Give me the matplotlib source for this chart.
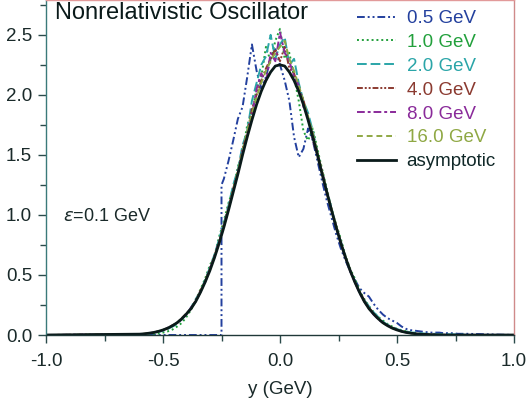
import matplotlib
matplotlib.use("Agg")
import matplotlib.pyplot as plt
from matplotlib.ticker import MultipleLocator
import numpy as np

plt.rcParams['font.family'] = ['Liberation Sans', 'DejaVu Sans']

# common sampling grid in y (GeV), -0.60 .. 0.80
grid = np.round(np.arange(-0.60, 0.8001, 0.02), 2)

asym = [0.007, 0.010, 0.015, 0.021, 0.030, 0.042, 0.057, 0.077, 0.102, 0.135,
        0.175, 0.22, 0.28, 0.355, 0.44, 0.535, 0.644, 0.765, 0.897, 1.04,
        1.19, 1.34, 1.50, 1.65, 1.79, 1.92, 2.03, 2.12, 2.19, 2.24,
        2.25, 2.24, 2.19, 2.12, 2.03, 1.92, 1.79, 1.65, 1.50, 1.34,
        1.19, 1.04, 0.897, 0.765, 0.644, 0.535, 0.44, 0.355, 0.28, 0.22,
        0.175, 0.135, 0.102, 0.077, 0.057, 0.042, 0.030, 0.021, 0.015, 0.010,
        0.007, 0.005, 0.003, 0.002, 0.001, 0.001, 0, 0, 0, 0, 0]

e1 = [0.0, 0.0, 0.005, 0.01, 0.012, 0.02, 0.03, 0.045, 0.07, 0.10,
      0.15, 0.21, 0.29, 0.38, 0.47, 0.58, 0.66, 0.82, 0.95, 1.10,
      1.22, 1.40, 1.52, 1.75, 1.85, 2.05, 2.15, 2.40, 2.28, 2.45,
      2.55, 2.30, 2.35, 2.15, 1.95, 1.70, 1.62, 1.72, 1.55, 1.38,
      1.22, 1.05, 0.92, 0.80, 0.66, 0.55, 0.47, 0.37, 0.30, 0.24,
      0.19, 0.15, 0.12, 0.09, 0.07, 0.05, 0.04, 0.03, 0.02, 0.015,
      0.01, 0.01, 0.005, 0.005, 0, 0, 0, 0, 0, 0, 0]

e2 = [0.005, 0.008, 0.012, 0.02, 0.025, 0.035, 0.05, 0.07, 0.09, 0.13,
      0.17, 0.23, 0.30, 0.36, 0.46, 0.56, 0.67, 0.80, 0.93, 1.08,
      1.25, 1.38, 1.58, 1.70, 1.95, 2.10, 2.25, 2.32, 2.50, 2.30,
      2.42, 2.48, 2.25, 2.30, 2.10, 1.95, 1.85, 1.70, 1.52, 1.36,
      1.20, 1.06, 0.90, 0.78, 0.65, 0.54, 0.45, 0.36, 0.29, 0.24,
      0.19, 0.15, 0.11, 0.085, 0.065, 0.05, 0.035, 0.03, 0.02, 0.02,
      0.015, 0.01, 0.01, 0.01, 0.008, 0.008, 0.006, 0.005, 0.004, 0.003, 0]

e4 = [0.006, 0.01, 0.014, 0.02, 0.03, 0.04, 0.055, 0.08, 0.10, 0.14,
      0.18, 0.22, 0.29, 0.37, 0.45, 0.55, 0.66, 0.78, 0.92, 1.06,
      1.22, 1.36, 1.55, 1.68, 1.88, 2.00, 2.12, 2.22, 2.30, 2.38,
      2.28, 2.40, 2.22, 2.18, 2.05, 1.96, 1.80, 1.68, 1.52, 1.36,
      1.20, 1.05, 0.91, 0.77, 0.65, 0.54, 0.44, 0.36, 0.29, 0.23,
      0.18, 0.14, 0.10, 0.08, 0.06, 0.045, 0.03, 0.022, 0.015, 0.01,
      0.007, 0.005, 0.003, 0.002, 0.001, 0, 0, 0, 0, 0, 0]

e8 = [0.007, 0.01, 0.015, 0.02, 0.03, 0.04, 0.06, 0.08, 0.10, 0.13,
      0.17, 0.23, 0.28, 0.36, 0.44, 0.55, 0.65, 0.78, 0.90, 1.05,
      1.20, 1.35, 1.52, 1.66, 1.82, 2.05, 2.18, 2.10, 2.35, 2.28,
      2.52, 2.35, 2.28, 2.15, 2.08, 1.90, 1.82, 1.62, 1.50, 1.35,
      1.18, 1.04, 0.90, 0.76, 0.64, 0.53, 0.44, 0.35, 0.28, 0.22,
      0.17, 0.13, 0.10, 0.08, 0.06, 0.042, 0.03, 0.021, 0.015, 0.01,
      0.007, 0.005, 0.003, 0.002, 0.001, 0.001, 0, 0, 0, 0, 0]

e16 = [0.007, 0.01, 0.015, 0.021, 0.03, 0.042, 0.057, 0.077, 0.10, 0.135,
       0.175, 0.22, 0.28, 0.36, 0.45, 0.54, 0.65, 0.77, 0.91, 1.05,
       1.21, 1.37, 1.53, 1.70, 1.84, 1.98, 2.10, 2.20, 2.28, 2.35,
       2.40, 2.45, 2.30, 2.20, 2.08, 1.95, 1.82, 1.68, 1.52, 1.36,
       1.20, 1.05, 0.91, 0.77, 0.65, 0.54, 0.44, 0.36, 0.28, 0.22,
       0.175, 0.135, 0.10, 0.077, 0.057, 0.042, 0.03, 0.021, 0.015, 0.01,
       0.007, 0.005, 0.003, 0.002, 0.001, 0.001, 0, 0, 0, 0, 0]

# 0.5 GeV curve has a hard edge at y = -0.25
e05_x = [-1.0, -0.25, -0.25] + list(grid[grid >= -0.24]) + [1.0]
e05 = [0, 0, 1.25,
       1.30, 1.45, 1.62, 1.80, 1.90, 2.15, 2.42, 2.20, 2.05, 2.15,
       2.30, 2.38, 2.25, 2.12, 1.95, 1.65, 1.48, 1.55, 1.72, 1.62,
       1.45, 1.28, 1.12, 0.98, 0.84, 0.72, 0.62, 0.53, 0.46, 0.39,
       0.35, 0.32, 0.26, 0.21, 0.17, 0.14, 0.12, 0.10, 0.07, 0.05,
       0.04, 0.035, 0.03, 0.025, 0.02, 0.02, 0.02, 0.015, 0.015, 0.015,
       0.01, 0.01, 0.01, 0]

labels = ['0.5 GeV', '1.0 GeV', '2.0 GeV', '4.0 GeV', '8.0 GeV', '16.0 GeV']
colors = ['#23409e', '#22a03c', '#2aa5a8', '#8b3a30', '#8a2a9a', '#8fa844']
styles = [(0, (4, 1.5, 1, 1.5, 1, 1.5)), (0, (1, 1.5)), (0, (5, 2)),
          (0, (3, 1, 1, 1, 1, 1)), (0, (4, 1.5, 1.5, 1.5)), (0, (3, 2))]

xfull = [-1.0] + list(grid) + [1.0]


def pad(v):
    return [0] + list(v) + [0]


fig = plt.figure(figsize=(5.29, 4.0), dpi=100)
ax = fig.add_axes([46 / 529, 65 / 400, 468 / 529, 335 / 400])

ax.plot(e05_x, e05, color=colors[0], ls=styles[0], lw=1.4, label=labels[0])
for v, lab, c, s in zip([e1, e2, e4, e8, e16], labels[1:], colors[1:], styles[1:]):
    ax.plot(xfull, pad(v), color=c, ls=s, lw=1.4, label=lab)
ax.plot(xfull, pad(asym), color='#0a1a1a', lw=2.0, label='asymptotic')

ax.set_xlim(-1.0, 1.0)
ax.set_ylim(0, 2.79)
ax.xaxis.set_major_locator(MultipleLocator(0.5))
ax.xaxis.set_minor_locator(MultipleLocator(0.25))
ax.yaxis.set_major_locator(MultipleLocator(0.5))
ax.yaxis.set_minor_locator(MultipleLocator(0.25))
ax.xaxis.set_major_formatter(plt.FuncFormatter(lambda v, p: f'{v:.1f}'))
ax.yaxis.set_major_formatter(plt.FuncFormatter(lambda v, p: f'{v:.1f}'))

tick_c = '#2a4a4a'
ax.tick_params(which='major', direction='out', length=6, width=1, color=tick_c,
               labelsize=13.5, labelcolor='#1a2a2a')
ax.tick_params(which='minor', direction='out', length=4, width=1, color=tick_c)
ax.tick_params(axis='x', which='major', pad=7)
ax.tick_params(axis='y', which='major', pad=4)

ax.spines['left'].set_color('#3a7a7a')
ax.spines['bottom'].set_color('#203838')
ax.spines['top'].set_color('#e29a9a')
ax.spines['right'].set_color('#d08a8a')
for sp in ax.spines.values():
    sp.set_linewidth(1.0)

ax.set_xlabel('y (GeV)', fontsize=13.5, color='#1a2a2a', labelpad=8)

ax.text(0.019, 0.96, 'Nonrelativistic Oscillator', transform=ax.transAxes,
        fontsize=17, color='#0a1a1a', va='center', ha='left')
ax.text(0.036, 0.355, r'$\varepsilon$=0.1 GeV', transform=ax.transAxes,
        fontsize=13, color='#1a2a2a', va='center', ha='left')

leg = ax.legend(loc='upper left', bbox_to_anchor=((357 - 46) / 468, 1 - 10 / 335),
                frameon=False, fontsize=13.5, handlelength=2.1, handletextpad=0.55,
                labelspacing=0.36, borderpad=0, borderaxespad=0,
                labelcolor='linecolor')
leg.get_texts()[-1].set_color('#102828')

fig.savefig('out.png', dpi=100)
